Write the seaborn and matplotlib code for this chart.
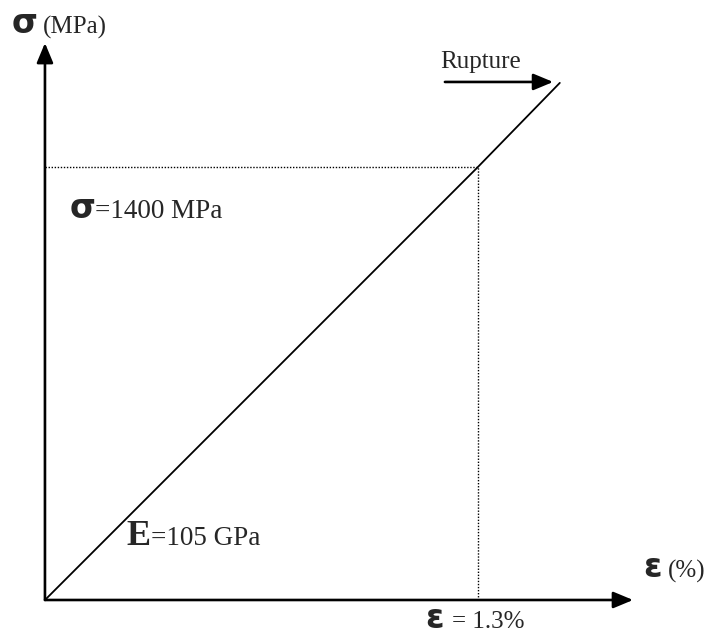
import matplotlib
matplotlib.use("Agg")
import matplotlib.pyplot as plt
import seaborn as sns
import pandas as pd

# stress-strain curve (schematic, linear up to rupture)
strain = [0.0, 1.3, 1.546]       # %
stress = [0.0, 1400.0, 1672.0]   # MPa

strain_mark = 1.3
stress_mark = 1400.0

# axis extents (arrow tips)
x_axis_end = 1.766
y_axis_end = 1801.0

sns.set_theme(style="white")
plt.rcParams['font.family'] = ['Liberation Serif', 'DejaVu Serif']

df = pd.DataFrame({'strain': strain, 'stress': stress})

fig = plt.figure(figsize=(7.12, 6.41), dpi=100)
ax = fig.add_axes([0, 0, 1, 1])

sns.lineplot(data=df, x='strain', y='stress', color='black', linewidth=1.3, ax=ax)

# dotted guide lines to the reference point
ax.plot([0, strain_mark], [stress_mark, stress_mark], color='black', linestyle=(0, (1, 1.2)), linewidth=1.0)
ax.plot([strain_mark, strain_mark], [0, stress_mark], color='black', linestyle=(0, (1, 1.2)), linewidth=1.0)

# axes drawn as arrows
arrow_kw = dict(arrowstyle='-|>,head_length=1.2,head_width=0.5', color='black', lw=1.9,
                shrinkA=0, shrinkB=0, mutation_scale=10)
ax.annotate('', xy=(x_axis_end, 0), xytext=(0, 0), arrowprops=arrow_kw)
ax.annotate('', xy=(0, y_axis_end), xytext=(0, 0), arrowprops=arrow_kw)

# rupture arrow
ax.annotate('', xy=(1.526, 1675), xytext=(1.201, 1675), arrowprops=arrow_kw)
ax.text(1.186, 1720, 'Rupture', fontsize=18, ha='left', va='baseline')

greek = dict(fontfamily='DejaVu Sans', fontweight='bold', fontsize=24, va='baseline', ha='left')
serif = dict(fontsize=18, va='baseline', ha='left')

# y-axis label
ax.text(-0.099, 1833, 'σ', **greek)
ax.text(-0.006, 1833, '(MPa)', **serif)

# x-axis label
ax.text(1.796, 74, 'ε', **greek)
ax.text(1.871, 74, '(%)', **serif)

# values
ax.text(0.075, 1235, 'σ', **greek)
ax.text(0.150, 1235, '=1400 MPa', fontsize=19.5, va='baseline', ha='left')

ax.text(0.246, 178, 'E', fontsize=26, fontweight='bold', va='baseline', ha='left')
ax.text(0.318, 178, '=105 GPa', fontsize=19.5, va='baseline', ha='left')

ax.text(1.141, -90, 'ε', **greek)
ax.text(1.222, -90, '= 1.3%', fontsize=18, va='baseline', ha='left')

ax.set_xlim(-0.135, 2.003)
ax.set_ylim(-132.6, 1940)
ax.set_axis_off()

fig.savefig('out.png', dpi=100)
